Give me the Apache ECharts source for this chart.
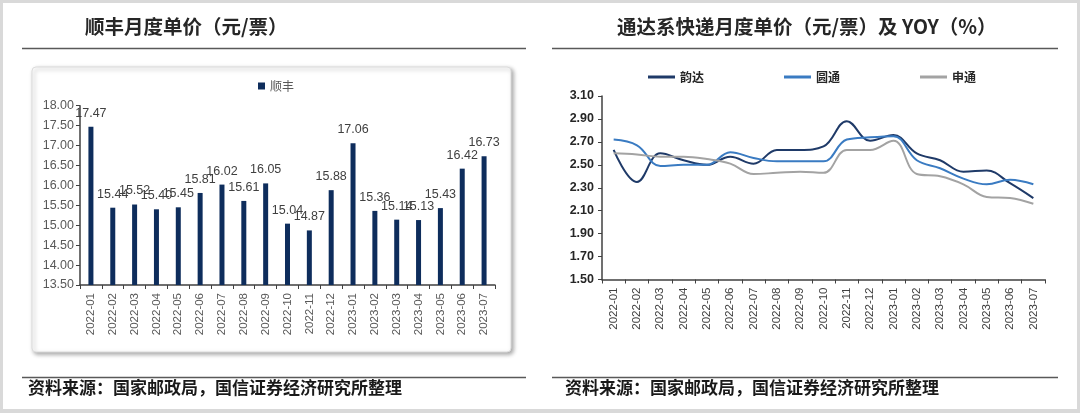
<!DOCTYPE html>
<html><head><meta charset="utf-8">
<script src="https://cdn.jsdelivr.net/npm/echarts@6/dist/echarts.min.js"></script>
<style>html,body{margin:0;padding:0;background:#fff;}#c{width:1080px;height:413px;}</style>
</head><body><div id="c"></div>
<script>
const categories = ['2022-01','2022-02','2022-03','2022-04','2022-05','2022-06','2022-07','2022-08','2022-09','2022-10','2022-11','2022-12','2023-01','2023-02','2023-03','2023-04','2023-05','2023-06','2023-07'];
const sfPrice = [17.47,15.44,15.52,15.40,15.45,15.81,16.02,15.61,16.05,15.04,14.87,15.88,17.06,15.36,15.14,15.13,15.43,16.42,16.73];
const yundaPrice = [2.63,2.35,2.60,2.54,2.50,2.57,2.51,2.63,2.63,2.66,2.88,2.71,2.76,2.60,2.54,2.44,2.45,2.34,2.21];
const ytoPrice = [2.72,2.67,2.49,2.50,2.50,2.61,2.56,2.53,2.53,2.53,2.72,2.74,2.75,2.54,2.47,2.38,2.33,2.37,2.33];
const stoPrice = [2.60,2.59,2.57,2.57,2.55,2.51,2.42,2.43,2.44,2.43,2.63,2.63,2.71,2.42,2.40,2.33,2.22,2.21,2.16];
const leftTicks = {min:13.5, max:18, interval:0.5};
const rightTicks = {min:1.5, max:3.1, interval:0.2};

const chart = echarts.init(document.getElementById('c'), null, {renderer:'canvas'});
const cjk = '"Noto Sans CJK SC", sans-serif';
const num = '"Liberation Sans", Arial, sans-serif';
const axisCol = '#404040';
chart.setOption({
  animation:false,
  backgroundColor:'#fff',
  title:[
    {text:'顺丰月度单价（元/票）', left:85, top:17, padding:0, textStyle:{fontFamily:cjk,fontSize:19.5,fontWeight:'bold',color:'#262626'}},
    {text:'通达系快递月度单价（元/票）及 YOY（%）', left:617, top:17, padding:0, textStyle:{fontFamily:cjk,fontSize:19.5,fontWeight:'bold',color:'#262626'}},
    {text:'资料来源：国家邮政局，国信证券经济研究所整理', left:28, top:379, padding:0, textStyle:{fontFamily:cjk,fontSize:17,fontWeight:'bold',color:'#1a1a1a'}},
    {text:'资料来源：国家邮政局，国信证券经济研究所整理', left:565, top:379, padding:0, textStyle:{fontFamily:cjk,fontSize:17,fontWeight:'bold',color:'#1a1a1a'}}
  ],
  graphic:[
    {type:'rect', z:-10, shape:{x:1.5,y:1.5,width:1077,height:409}, style:{fill:'none',stroke:'#d9d9d9',lineWidth:3}},
    {type:'line', z:-10, shape:{x1:0,y1:411,x2:1080,y2:411}, style:{stroke:'#d9d9d9',lineWidth:4}},
    {type:'rect', z:-10, shape:{x:32,y:67,width:479,height:285,r:4}, style:{fill:'#fff',stroke:'#dcdcdc',lineWidth:1,shadowBlur:4,shadowOffsetX:2,shadowOffsetY:2,shadowColor:'rgba(0,0,0,0.35)'}},
    {type:'line', shape:{x1:22,y1:48.5,x2:526,y2:48.5}, style:{stroke:'#595959',lineWidth:1.5}},
    {type:'line', shape:{x1:552,y1:48.5,x2:1058,y2:48.5}, style:{stroke:'#595959',lineWidth:1.5}},
    {type:'line', shape:{x1:22,y1:377.5,x2:526,y2:377.5}, style:{stroke:'#595959',lineWidth:1.5}},
    {type:'line', shape:{x1:552,y1:377.5,x2:1058,y2:377.5}, style:{stroke:'#595959',lineWidth:1.5}}
  ],
  legend:[
    {data:[{name:'顺丰',icon:'rect'}], left:253, top:75, itemWidth:7, itemHeight:7, itemGap:6,
      textStyle:{fontFamily:cjk,fontSize:12,color:'#595959'}},
    {data:[{name:'韵达',icon:'rect'},{name:'圆通',icon:'rect'},{name:'申通',icon:'rect'}], left:643, top:66, itemWidth:27, itemHeight:3, itemGap:80,
      textStyle:{fontFamily:cjk,fontSize:12,color:'#262626',fontWeight:'bold'}}
  ],
  grid:[
    {left:80, top:105.7, width:415, height:179.3, containLabel:false},
    {left:602, top:96, width:443, height:183.5, containLabel:false}
  ],
  xAxis:[
    {type:'category', gridIndex:0, data:categories, boundaryGap:true,
      axisLine:{lineStyle:{color:axisCol,width:1.5}}, axisTick:{show:true,length:4,alignWithLabel:false,lineStyle:{color:axisCol}},
      axisLabel:{rotate:90, interval:0, fontFamily:num, fontSize:11.5, color:'#595959', margin:8}},
    {type:'category', gridIndex:1, data:categories, boundaryGap:true,
      axisLine:{lineStyle:{color:axisCol,width:1.5}}, axisTick:{show:true,length:4,lineStyle:{color:axisCol}},
      axisLabel:{rotate:90, interval:0, fontFamily:num, fontSize:11.5, color:'#404040', margin:8}}
  ],
  yAxis:[
    {type:'value', gridIndex:0, min:leftTicks.min, max:leftTicks.max, interval:leftTicks.interval,
      axisLine:{show:true,lineStyle:{color:axisCol,width:1.5}}, axisTick:{show:true,length:4,lineStyle:{color:axisCol}},
      splitLine:{show:false},
      axisLabel:{fontFamily:num,fontSize:12.5,color:'#595959',margin:6,formatter:v=>v.toFixed(2)}},
    {type:'value', gridIndex:1, min:rightTicks.min, max:rightTicks.max, interval:rightTicks.interval,
      axisLine:{show:true,lineStyle:{color:axisCol,width:1.5}}, axisTick:{show:true,length:4,lineStyle:{color:axisCol}},
      splitLine:{show:false},
      axisLabel:{fontFamily:num,fontSize:12.5,color:'#262626',fontWeight:'bold',margin:8,formatter:v=>v.toFixed(2)}}
  ],
  series:[
    {name:'顺丰', type:'bar', xAxisIndex:0, yAxisIndex:0, data:sfPrice, barWidth:5,
      itemStyle:{color:'#0e2d5c'},
      label:{show:true, position:'top', distance:7, fontFamily:num, fontSize:12.5, color:'#404040', formatter:p=>p.value.toFixed(2)}},
    {name:'韵达', type:'line', xAxisIndex:1, yAxisIndex:1, data:yundaPrice, smooth:0.4, symbol:'none',
      lineStyle:{color:'#1f3a68',width:2}, itemStyle:{color:'#1f3a68'}},
    {name:'圆通', type:'line', xAxisIndex:1, yAxisIndex:1, data:ytoPrice, smooth:0.4, symbol:'none',
      lineStyle:{color:'#3a7bc2',width:2}, itemStyle:{color:'#3a7bc2'}},
    {name:'申通', type:'line', xAxisIndex:1, yAxisIndex:1, data:stoPrice, smooth:0.4, symbol:'none',
      lineStyle:{color:'#a3a3a3',width:2}, itemStyle:{color:'#a3a3a3'}}
  ]
});
</script></body></html>
